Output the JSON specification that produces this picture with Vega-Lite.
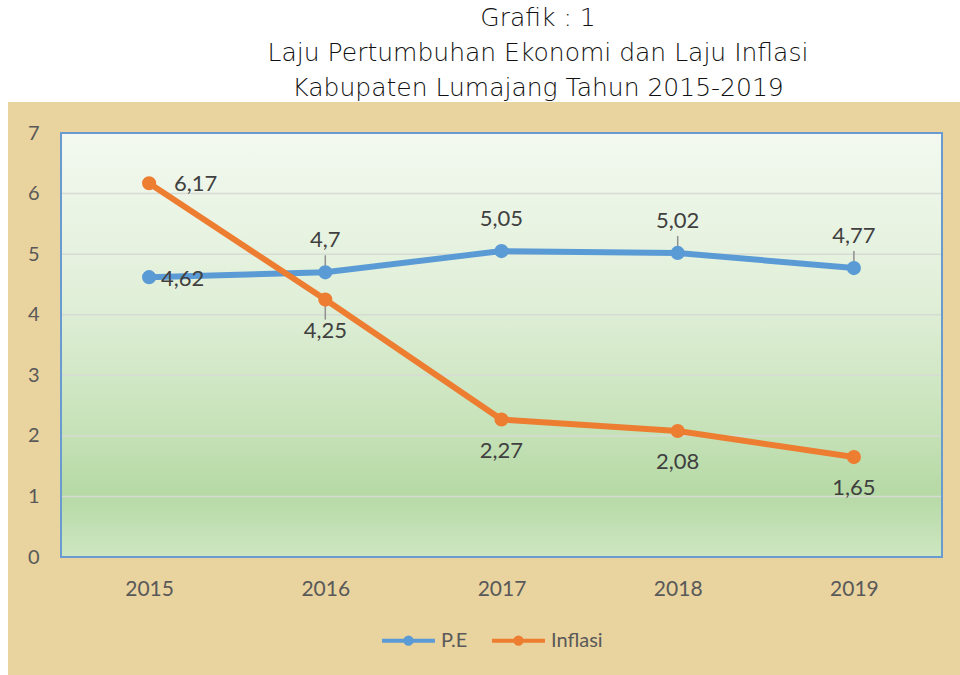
{
  "$schema": "https://vega.github.io/schema/vega-lite/v6.json",
  "width": 952,
  "height": 573,
  "autosize": {"type": "none"},
  "padding": {"left": 8, "top": 102, "right": 0, "bottom": 0},
  "background": "white",
  "config": {
    "view": {"fill": "#e9d39f", "stroke": null},
    "locale": {"number": {"decimal": ",", "thousands": ".", "grouping": [3], "currency": ["", ""]}},
    "font": "Lato"
  },
  "title": {
    "text": ["Grafik : 1", "Laju Pertumbuhan Ekonomi dan Laju Inflasi", "Kabupaten Lumajang Tahun 2015-2019"],
    "fontSize": 25,
    "fontWeight": 200,
    "font": "DejaVu Sans",
    "color": "#111111",
    "lineHeight": 35,
    "anchor": "middle",
    "dx": 54,
    "dy": 3,
    "offset": 4
  },
  "resolve": {"scale": {"x": "independent"}},
  "layer": [
    {
      "data": {"values": [{"a": 0}]},
      "mark": {
        "type": "rect",
        "fill": {
          "gradient": "linear", "x1": 0, "y1": 0, "x2": 0, "y2": 1,
          "stops": [
            {"offset": 0, "color": "#f3f9f0"},
            {"offset": 0.4, "color": "#e0efd8"},
            {"offset": 0.7, "color": "#c6e2b8"},
            {"offset": 0.85, "color": "#b6d9a5"},
            {"offset": 1, "color": "#cde7c1"}
          ]
        },
        "stroke": "#6a9bd0",
        "strokeWidth": 2
      },
      "encoding": {
        "x": {"datum": 0, "type": "quantitative", "scale": {"domain": [0, 1], "range": [53, 934]}, "axis": null},
        "x2": {"datum": 1},
        "y": {
          "datum": 0, "type": "quantitative", "scale": {"domain": [0, 7], "range": [455, 31]},
          "axis": {"title": null, "offset": -53, "domain": false, "ticks": false, "grid": false, "labelPadding": 22, "values": [0, 1, 2, 3, 4, 5, 6, 7], "format": "d", "labelFontSize": 20, "labelColor": "#595959", "labelFont": "Lato"}
        },
        "y2": {"datum": 7}
      }
    },
    {
      "data": {"values": [{"g": 1}, {"g": 2}, {"g": 3}, {"g": 4}, {"g": 5}, {"g": 6}]},
      "mark": {"type": "rule", "color": "#d6dcd3", "strokeWidth": 1.5},
      "encoding": {
        "x": {"datum": 0, "type": "quantitative", "scale": {"domain": [0, 1], "range": [54, 933]}, "axis": null},
        "x2": {"datum": 1},
        "y": {
          "field": "g", "type": "quantitative", "scale": {"domain": [0, 7], "range": [455, 31]},
          "axis": {"title": null, "offset": -53, "domain": false, "ticks": false, "grid": false, "labelPadding": 22, "values": [0, 1, 2, 3, 4, 5, 6, 7], "format": "d", "labelFontSize": 20, "labelColor": "#595959", "labelFont": "Lato"}
        }
      }
    },
    {
      "data": {
        "values": [
          {"year": 2015, "series": "P.E", "value": 4.62},
          {"year": 2016, "series": "P.E", "value": 4.7},
          {"year": 2017, "series": "P.E", "value": 5.05},
          {"year": 2018, "series": "P.E", "value": 5.02},
          {"year": 2019, "series": "P.E", "value": 4.77},
          {"year": 2015, "series": "Inflasi", "value": 6.17},
          {"year": 2016, "series": "Inflasi", "value": 4.25},
          {"year": 2017, "series": "Inflasi", "value": 2.27},
          {"year": 2018, "series": "Inflasi", "value": 2.08},
          {"year": 2019, "series": "Inflasi", "value": 1.65}
        ]
      },
      "encoding": {
        "x": {
          "field": "year", "type": "ordinal",
          "scale": {"type": "point", "range": [53, 934], "padding": 0.5},
          "axis": {"title": null, "orient": "bottom", "offset": -118, "domain": false, "ticks": false, "grid": false, "labelPadding": 21, "labelFontSize": 21, "labelColor": "#595959", "labelAngle": 0, "labelFont": "Lato"}
        },
        "y": {
          "field": "value", "type": "quantitative",
          "scale": {"domain": [0, 7], "range": [455, 31]},
          "axis": {"title": null, "offset": -53, "domain": false, "ticks": false, "grid": false, "labelPadding": 22, "values": [0, 1, 2, 3, 4, 5, 6, 7], "format": "d", "labelFontSize": 20, "labelColor": "#595959", "labelFont": "Lato"}
        }
      },
      "layer": [
        {
          "transform": [{"filter": "datum.series == 'P.E' && datum.year != 2015 && datum.year != 2017"}],
          "mark": {"type": "rule", "color": "#8f8f8f", "strokeWidth": 1.5, "yOffset": -5, "y2Offset": -17},
          "encoding": {"y2": {"field": "value"}}
        },
        {
          "transform": [{"filter": "datum.series == 'Inflasi' && datum.year == 2016"}],
          "mark": {"type": "rule", "color": "#8f8f8f", "strokeWidth": 1.5, "yOffset": 3, "y2Offset": 20},
          "encoding": {"y2": {"field": "value"}}
        },
        {
          "mark": {"type": "line", "strokeWidth": 6, "point": {"filled": true, "size": 200}},
          "encoding": {
            "color": {
              "field": "series", "type": "nominal",
              "scale": {"domain": ["P.E", "Inflasi"], "range": ["#5b9bd5", "#ed7d31"]},
              "legend": {
                "orient": "none", "legendX": 372, "legendY": 510, "direction": "horizontal", "title": null,
                "symbolType": "M-1,0H1M0.12,0A0.12,0.12 0 1,1 -0.12,0A0.12,0.12 0 1,1 0.12,0",
                "symbolSize": 2800, "symbolStrokeWidth": 4,
                "labelFontSize": 20, "labelColor": "#595959", "labelFont": "Lato", "columnPadding": 16
              }
            }
          }
        },
        {
          "transform": [{"filter": "datum.series == 'P.E' && datum.year != 2015"}],
          "mark": {"type": "text", "dy": -32, "fontSize": 22, "color": "#404040"},
          "encoding": {"text": {"field": "value", "type": "quantitative", "format": ".2~f"}}
        },
        {
          "transform": [{"filter": "datum.series == 'Inflasi' && datum.year != 2015"}],
          "mark": {"type": "text", "dy": 31, "fontSize": 22, "color": "#404040"},
          "encoding": {"text": {"field": "value", "type": "quantitative", "format": ".2~f"}}
        },
        {
          "transform": [{"filter": "datum.series == 'Inflasi' && datum.year == 2015"}],
          "mark": {"type": "text", "align": "left", "dx": 25, "dy": 1, "fontSize": 22, "color": "#404040"},
          "encoding": {"text": {"field": "value", "type": "quantitative", "format": ".2~f"}}
        },
        {
          "transform": [{"filter": "datum.series == 'P.E' && datum.year == 2015"}],
          "mark": {"type": "text", "align": "left", "dx": 12, "dy": 2, "fontSize": 22, "color": "#404040"},
          "encoding": {"text": {"field": "value", "type": "quantitative", "format": ".2~f"}}
        }
      ]
    }
  ]
}
